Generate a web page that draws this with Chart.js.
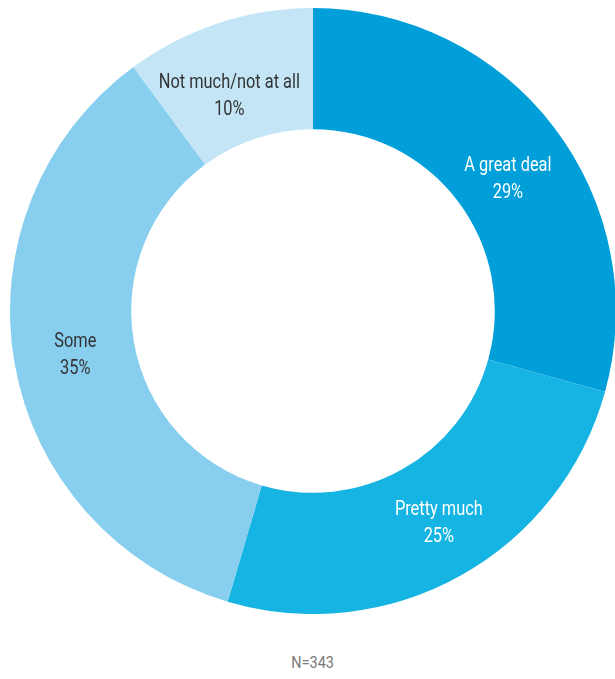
<!DOCTYPE html>
<html>
<head>
<meta charset="utf-8">
<script src="https://cdn.jsdelivr.net/npm/chart.js@4/dist/chart.umd.min.js"></script>
<style>
  html, body { margin: 0; padding: 0; background: #fff; overflow: hidden; }
  #wrap { position: absolute; left: 0; top: 0; width: 616px; height: 614px; }
  #note { position: absolute; left: 0; top: 653px; width: 626px; text-align: center;
          font-family: "Roboto", "Noto Sans", sans-serif; font-size: 16px; color: #7a7a7a; }
</style>
</head>
<body>
<div id="wrap"><canvas id="donut"></canvas></div>
<div id="note"><span style="display:inline-block;transform:scaleX(0.9)">N=343</span></div>
<script>
const categories = ["A great deal", "Pretty much", "Some", "Not much/not at all"];
const shares = [29, 25, 35, 10];
const sliceColors = ["#009fda", "#15b4e3", "#88cfef", "#c4e5f6"];
const labelColors = ["#ffffff", "#ffffff", "#333333", "#333333"];
// small shifts so the text sits nicely inside each slice
const labelNudge = [[2, 15], [8, 0], [1, 2], [-8, 15]];

// writes category and percent at the middle of each slice, in a condensed face
const sliceLabels = {
  id: "sliceLabels",
  afterDatasetsDraw(chart) {
    const ctx = chart.ctx;
    const meta = chart.getDatasetMeta(0);
    ctx.save();
    ctx.textAlign = "center";
    ctx.textBaseline = "middle";
    ctx.font = '21px "Roboto", "Noto Sans", sans-serif';
    meta.data.forEach(function(arc, i) {
      const p = arc.getCenterPoint();
      const x = p.x + labelNudge[i][0];
      const y = p.y + labelNudge[i][1];
      ctx.save();
      ctx.translate(x, y);
      ctx.scale(0.78, 1);
      ctx.fillStyle = labelColors[i];
      ctx.fillText(categories[i], 0, -13);
      ctx.fillText(shares[i] + "%", 0, 14);
      ctx.restore();
    });
    ctx.restore();
  }
};

new Chart(document.getElementById("donut"), {
  type: "doughnut",
  data: {
    labels: categories,
    datasets: [{
      data: shares,
      backgroundColor: sliceColors,
      borderWidth: 0
    }]
  },
  options: {
    responsive: true,
    maintainAspectRatio: false,
    animation: false,
    cutout: "60%",
    layout: { padding: { left: 10, top: 8, right: 0, bottom: 0 } },
    plugins: {
      legend: { display: false },
      tooltip: { enabled: false }
    }
  },
  plugins: [sliceLabels]
});
</script>
</body>
</html>
